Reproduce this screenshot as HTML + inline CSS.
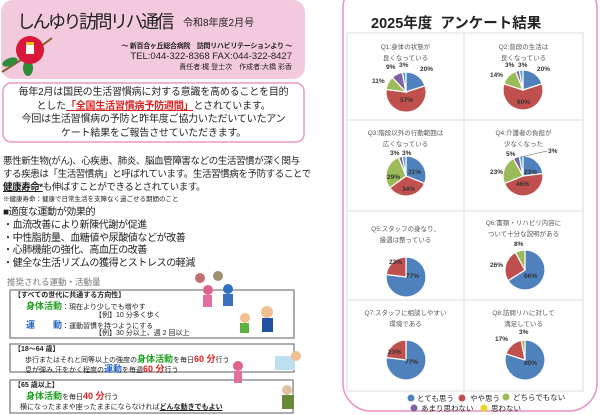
<!DOCTYPE html>
<html><head><meta charset="utf-8">
<style>
html,body{margin:0;padding:0;background:#fff;}
body{width:600px;height:415px;position:relative;overflow:hidden;font-family:"Liberation Sans","Noto Sans CJK JP",sans-serif;color:#222;}
.a{position:absolute;white-space:nowrap;}
</style></head><body>
<svg width="600" height="415" style="position:absolute;left:0;top:0" xmlns="http://www.w3.org/2000/svg">
<rect x="1" y="0" width="304" height="79" rx="12" fill="#f3c9dd"/>
<path d="M2 72 Q30 55 52 38" stroke="#8a5a2a" stroke-width="2" fill="none"/>
<ellipse cx="10" cy="62" rx="8" ry="4" fill="#2e8b3a" transform="rotate(-20 10 62)"/>
<ellipse cx="28" cy="68" rx="5" ry="8" fill="#2e8b3a"/>
<circle cx="30" cy="50" r="14" fill="#d8173b"/>
<rect x="26" y="42" width="8" height="12" fill="#fff"/>
<rect x="26" y="42" width="8" height="3" fill="#f0c020"/>
<rect x="3" y="83" width="301" height="59" rx="8" fill="#fff" stroke="#e898c0" stroke-width="1.5"/>
<rect x="343" y="-20" width="254" height="431" rx="28" fill="#fff" stroke="#e890c4" stroke-width="1.5"/>
<g stroke="#ddd" stroke-width="1" fill="none">
<rect x="347" y="33" width="236" height="358"/>
<line x1="464" y1="33" x2="464" y2="391"/>
<line x1="347" y1="120" x2="583" y2="120"/>
<line x1="347" y1="211" x2="583" y2="211"/>
<line x1="347" y1="300" x2="583" y2="300"/>
</g>
<g stroke="#fff" stroke-width="1.2">
<path d="M406 92 L406 72 A20 20 0 0 1 425 85.8 Z" fill="#4f81bd"/>
<path d="M406 92 L425 85.8 A20 20 0 1 1 386.2 89.5 Z" fill="#c0504d"/>
<path d="M406 92 L386.2 89.5 A20 20 0 0 1 392.3 77.4 Z" fill="#9bbb59"/>
<path d="M406 92 L392.3 77.4 A20 20 0 0 1 402.3 72.4 Z" fill="#8064a2"/>
<path d="M406 92 L402.3 72.4 A20 20 0 0 1 406 72 Z" fill="#4bacc6"/>
<path d="M523 90 L523 70 A20 20 0 0 1 542 83.8 Z" fill="#4f81bd"/>
<path d="M523 90 L542 83.8 A20 20 0 1 1 504 83.8 Z" fill="#c0504d"/>
<path d="M523 90 L504 83.8 A20 20 0 0 1 515.6 71.4 Z" fill="#9bbb59"/>
<path d="M523 90 L515.6 71.4 A20 20 0 0 1 519.3 70.4 Z" fill="#8064a2"/>
<path d="M523 90 L519.3 70.4 A20 20 0 0 1 523 70 Z" fill="#4bacc6"/>
<path d="M406 176 L406 156 A20 20 0 0 1 424.6 183.4 Z" fill="#4f81bd"/>
<path d="M406 176 L424.6 183.4 A20 20 0 0 1 389.8 187.8 Z" fill="#c0504d"/>
<path d="M406 176 L389.8 187.8 A20 20 0 0 1 398.6 157.4 Z" fill="#9bbb59"/>
<path d="M406 176 L398.6 157.4 A20 20 0 0 1 402.3 156.4 Z" fill="#8064a2"/>
<path d="M406 176 L402.3 156.4 A20 20 0 0 1 406 156 Z" fill="#4bacc6"/>
<path d="M523 176 L523 156 A20 20 0 0 1 542.8 173.5 Z" fill="#4f81bd"/>
<path d="M523 176 L542.8 173.5 A20 20 0 0 1 504.4 183.4 Z" fill="#c0504d"/>
<path d="M523 176 L504.4 183.4 A20 20 0 0 1 513.4 158.5 Z" fill="#9bbb59"/>
<path d="M523 176 L513.4 158.5 A20 20 0 0 1 519.3 156.4 Z" fill="#8064a2"/>
<path d="M523 176 L519.3 156.4 A20 20 0 0 1 523 156 Z" fill="#4bacc6"/>
<path d="M406 277 L406 257 A20 20 0 1 1 386.2 274.5 Z" fill="#4f81bd"/>
<path d="M406 277 L386.2 274.5 A20 20 0 0 1 406 257 Z" fill="#c0504d"/>
<path d="M525 270 L525 250 A20 20 0 1 1 508.1 280.7 Z" fill="#4f81bd"/>
<path d="M525 270 L508.1 280.7 A20 20 0 0 1 515.4 252.5 Z" fill="#c0504d"/>
<path d="M525 270 L515.4 252.5 A20 20 0 0 1 525 250 Z" fill="#9bbb59"/>
<path d="M406 360 L406 340 A20 20 0 1 1 386.2 357.5 Z" fill="#4f81bd"/>
<path d="M406 360 L386.2 357.5 A20 20 0 0 1 406 340 Z" fill="#c0504d"/>
<path d="M525 360 L525 340 A20 20 0 1 1 506 353.8 Z" fill="#4f81bd"/>
<path d="M525 360 L506 353.8 A20 20 0 0 1 521.3 340.4 Z" fill="#c0504d"/>
<path d="M525 360 L521.3 340.4 A20 20 0 0 1 525 340 Z" fill="#9bbb59"/>
</g>
<line x1="521" y1="157" x2="547" y2="151" stroke="#555" stroke-width="0.6"/>
<circle cx="411" cy="398" r="3.5" fill="#4f81bd"/>
<circle cx="462" cy="398" r="3.5" fill="#c0504d"/>
<circle cx="506" cy="397" r="3.5" fill="#9bbb59"/>
<circle cx="414" cy="408" r="3.5" fill="#8064a2"/>
<circle cx="484" cy="408" r="3.5" fill="#e8d820"/>
<rect x="10" y="290" width="284" height="48" fill="#fff" stroke="#777" stroke-width="1.2"/>
<rect x="10" y="344" width="284" height="28" fill="#fff" stroke="#777" stroke-width="1.2"/>
<rect x="10" y="380" width="283" height="33" fill="#fff" stroke="#777" stroke-width="1.2"/>
<g>
<circle cx="200" cy="278" r="5" fill="#c07070"/><circle cx="218" cy="276" r="5" fill="#a09070"/>
<circle cx="208" cy="290" r="5" fill="#e06090"/><circle cx="228" cy="289" r="5" fill="#3070c0"/>
<rect x="203" y="295" width="9" height="12" fill="#e070a0"/><rect x="223" y="294" width="10" height="12" fill="#3a70c0"/>
<circle cx="245" cy="318" r="5" fill="#f0c090"/><rect x="240" y="323" width="9" height="10" fill="#60b040"/>
<circle cx="267" cy="312" r="6" fill="#f0c090"/><rect x="262" y="318" width="11" height="14" fill="#2050a0"/>
<rect x="275" y="356" width="20" height="14" fill="#bde0f0"/><circle cx="296" cy="356" r="5" fill="#f0c090"/>
<circle cx="238" cy="366" r="5" fill="#e06090"/><rect x="234" y="371" width="8" height="12" fill="#e070a0"/>
<circle cx="287" cy="390" r="5" fill="#e0c0a0"/><rect x="282" y="395" width="12" height="14" fill="#6a8a3a"/>
</g>
</svg>

<div class="a" style="left:17px;top:8px;font-size:18px;letter-spacing:-2.5px;">しんゆり訪問リハ通信</div>
<div class="a" style="left:183px;top:14px;font-size:10px;">令和8年度2月号</div>
<div class="a" style="right:308px;top:41px;font-size:7px;font-weight:bold;letter-spacing:-0.3px;">～ 新百合ヶ丘総合病院　訪問リハビリテーションより ～</div>
<div class="a" style="right:308px;top:51px;font-size:9.5px;">TEL:044-322-8368 FAX:044-322-8427</div>
<div class="a" style="right:308px;top:62px;font-size:7px;">責任者:梶 登士次　作成者:大橋 彩香</div>

<div class="a" style="left:3px;width:301px;top:86px;font-size:10px;letter-spacing:-0.2px;line-height:13.5px;text-align:center;">毎年2月は国民の生活習慣病に対する意識を高めることを目的<br>とした<span style="color:#e02020;font-weight:bold;text-decoration:underline">「全国生活習慣病予防週間」</span>とされています。<br>今回は生活習慣病の予防と昨年度ご協力いただいていたアン<br>ケート結果をご報告させていただきます。</div>

<div class="a" style="left:3px;top:155px;font-size:9.5px;letter-spacing:-0.4px;line-height:13px;">悪性新生物(がん)、心疾患、肺炎、脳血管障害などの生活習慣が深く関与<br>する疾患は「生活習慣病」と呼ばれています。生活習慣病を予防することで<br><b style="text-decoration:underline">健康寿命*</b>も伸ばすことができるとされています。</div>
<div class="a" style="left:3px;top:193px;font-size:6.5px;">※健康寿命：健康で日常生活を支障なく過ごせる期間のこと</div>
<div class="a" style="left:3px;top:207px;font-size:10px;letter-spacing:-0.4px;line-height:12.8px;">■適度な運動が効果的<br>・血流改善により新陳代謝が促進<br>・中性脂肪量、血糖値や尿酸値などが改善<br>・心肺機能の強化、高血圧の改善<br>・健全な生活リズムの獲得とストレスの軽減</div>
<div class="a" style="left:7px;top:276px;font-size:8.5px;color:#777;">推奨される運動・活動量</div>

<div class="a" style="left:14px;top:290px;font-size:7px;font-weight:bold;">【すべての世代に共通する方向性】</div>
<div class="a" style="left:26px;top:299px;font-size:9px;"><b style="color:#20a020">身体活動</b><span style="font-size:7px">：現在より少しでも増やす</span></div>
<div class="a" style="left:95px;top:310px;font-size:7px;">【例】10 分多く歩く</div>
<div class="a" style="left:26px;top:318px;font-size:9px;"><b style="color:#2060c0">運　　動</b><span style="font-size:7px">：運動習慣を持つようにする</span></div>
<div class="a" style="left:95px;top:328px;font-size:7px;">【例】30 分以上、週 2 回以上</div>

<div class="a" style="left:14px;top:344px;font-size:7px;font-weight:bold;">【18～64 歳】</div>
<div class="a" style="left:25px;top:352px;font-size:7px;">歩行またはそれと同等以上の強度の<b style="color:#20a020;font-size:9px">身体活動</b>を毎日<b style="color:#e02020;font-size:9px">60 分</b>行う</div>
<div class="a" style="left:25px;top:362px;font-size:7px;">息が弾み,汗をかく程度の<b style="color:#2060c0;font-size:9px">運動</b>を毎週<b style="color:#e02020;font-size:9px">60 分</b>行う</div>

<div class="a" style="left:14px;top:380px;font-size:7px;font-weight:bold;">【65 歳以上】</div>
<div class="a" style="left:26px;top:389px;font-size:7px;"><b style="color:#20a020;font-size:9px">身体活動</b>を毎日<b style="color:#e02020;font-size:9px">40 分</b>行う</div>
<div class="a" style="left:20px;top:402px;font-size:7px;">横になったままや座ったままにならなければ<b style="text-decoration:underline">どんな動きでもよい</b></div>

<div class="a" style="left:371px;top:12px;font-size:14.5px;font-weight:bold;">2025年度&nbsp;&nbsp;アンケート結果</div>

<div class="a" style="left:347px;width:117px;top:42px;font-size:6.5px;line-height:11px;text-align:center;color:#555;">Q1:身体の状態が<br>良くなっている</div>
<div class="a" style="left:464px;width:119px;top:42px;font-size:6.5px;line-height:11px;text-align:center;color:#555;">Q2:普段の生活は<br>良くなっている</div>
<div class="a" style="left:347px;width:117px;top:128px;font-size:6.5px;line-height:11px;text-align:center;color:#555;">Q3:階段以外の行動範囲は<br>広くなっている</div>
<div class="a" style="left:464px;width:119px;top:128px;font-size:6.5px;line-height:11px;text-align:center;color:#555;">Q4:介護者の負担が<br>少なくなった</div>
<div class="a" style="left:347px;width:117px;top:224px;font-size:6.5px;line-height:11px;text-align:center;color:#555;">Q5:スタッフの身なり、<br>接遇は整っている</div>
<div class="a" style="left:464px;width:119px;top:218px;font-size:6.5px;line-height:11px;text-align:center;color:#555;">Q6:書類・リハビリ内容に<br>ついて十分な説明がある</div>
<div class="a" style="left:347px;width:117px;top:308px;font-size:6.5px;line-height:11px;text-align:center;color:#555;">Q7:スタッフに相談しやすい<br>環境である</div>
<div class="a" style="left:464px;width:119px;top:308px;font-size:6.5px;line-height:11px;text-align:center;color:#555;">Q8:訪問リハに対して<br>満足している</div>

<div style="font-size:6.5px;font-weight:bold;color:#333;">
<div class="a" style="left:420px;top:66px">20%</div><div class="a" style="left:400px;top:97px">57%</div><div class="a" style="left:372px;top:78px">11%</div><div class="a" style="left:386px;top:64px">9%</div><div class="a" style="left:399px;top:62px">3%</div>
<div class="a" style="left:537px;top:66px">20%</div><div class="a" style="left:517px;top:99px">60%</div><div class="a" style="left:490px;top:72px">14%</div><div class="a" style="left:505px;top:62px">3%</div><div class="a" style="left:518px;top:62px">3%</div>
<div class="a" style="left:408px;top:169px">31%</div><div class="a" style="left:402px;top:186px">34%</div><div class="a" style="left:387px;top:174px">29%</div><div class="a" style="left:390px;top:150px">3%</div><div class="a" style="left:402px;top:150px">3%</div>
<div class="a" style="left:524px;top:169px">23%</div><div class="a" style="left:516px;top:181px">46%</div><div class="a" style="left:490px;top:169px">23%</div><div class="a" style="left:506px;top:151px">5%</div><div class="a" style="left:548px;top:148px">3%</div>
<div class="a" style="left:389px;top:259px">23%</div><div class="a" style="left:406px;top:273px">77%</div>
<div class="a" style="left:490px;top:262px">26%</div><div class="a" style="left:514px;top:241px">8%</div><div class="a" style="left:524px;top:273px">66%</div>
<div class="a" style="left:388px;top:349px">23%</div><div class="a" style="left:405px;top:359px">77%</div>
<div class="a" style="left:495px;top:336px">17%</div><div class="a" style="left:519px;top:329px">3%</div><div class="a" style="left:524px;top:360px">80%</div>
</div>

<div class="a" style="left:417px;top:393px;font-size:7.5px;">とても思う</div>
<div class="a" style="left:470px;top:393px;font-size:7.5px;">やや思う</div>
<div class="a" style="left:513px;top:392px;font-size:7.5px;">どちらでもない</div>
<div class="a" style="left:421px;top:403px;font-size:7.5px;">あまり思わない</div>
<div class="a" style="left:491px;top:403px;font-size:7.5px;">思わない</div>
</body></html>
